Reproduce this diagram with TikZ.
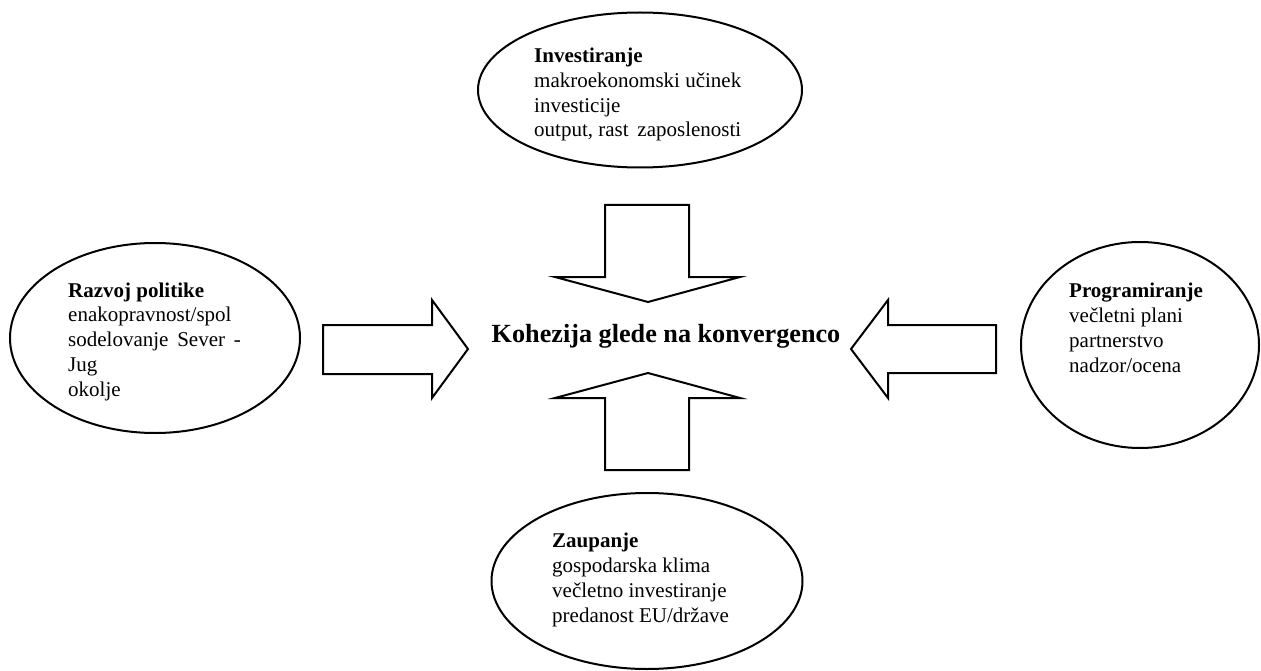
\documentclass[tikz,border=0pt]{standalone}
\usepackage{fontspec}
\setmainfont{Liberation Serif}
\usetikzlibrary{shapes.geometric}
\begin{document}
\begin{tikzpicture}[x=1pt,y=-1pt,
  oval/.style={draw,line width=2pt,ellipse,inner sep=0pt},
  blk/.style={draw,line width=2pt,line join=miter,fill=white},
  txt/.style={align=left,anchor=base west,inner sep=0pt,font=\fontsize{21}{24.7}\selectfont},
  ttl/.style={anchor=base,inner sep=0pt,font=\fontsize{26.2}{30}\selectfont\bfseries}]
\useasboundingbox (0,0) rectangle (1261,671);
% ellipses
\node[oval,minimum width=324pt,minimum height=155pt] (inv) at (640,90) {};
\node[oval,minimum width=290pt,minimum height=190pt] (raz) at (155,338) {};
\node[oval,minimum width=238pt,minimum height=206pt] (pro) at (1140,345) {};
\node[oval,minimum width=311pt,minimum height=176pt] (zau) at (647,581) {};
% texts (anchor = baseline of the last line)
\node[txt] (tinv) at (534,137) {\textbf{Investiranje}\\makroekonomski učinek\\investicije\\output, rast\, zaposlenosti};
\node[txt] (traz) at (68,396) {\textbf{Razvoj politike}\\enakopravnost/spol\\sodelovanje\, Sever\, -\\Jug\\okolje};
\node[txt] (tpro) at (1069,372) {\textbf{Programiranje}\\večletni plani\\partnerstvo\\nadzor/ocena};
\node[txt] (tzau) at (552,622) {\textbf{Zaupanje}\\gospodarska klima\\večletno investiranje\\predanost EU/države};
\node[ttl] (coh) at (666,342) {Kohezija glede na konvergenco};
% block arrows
\draw[blk] (605,205) -- (689,205) -- (689,277) -- (740,277) -- (648,302) -- (555,277) -- (605,277) -- cycle;
\draw[blk] (605,470) -- (689,470) -- (689,398) -- (740,398) -- (648,373) -- (555,398) -- (605,398) -- cycle;
\draw[blk] (323,325) -- (432,325) -- (432,300) -- (468,349) -- (432,398) -- (432,374) -- (323,374) -- cycle;
\draw[blk] (996,325) -- (888,325) -- (888,300) -- (851,349) -- (888,398) -- (888,373) -- (996,373) -- cycle;
\end{tikzpicture}
\end{document}
